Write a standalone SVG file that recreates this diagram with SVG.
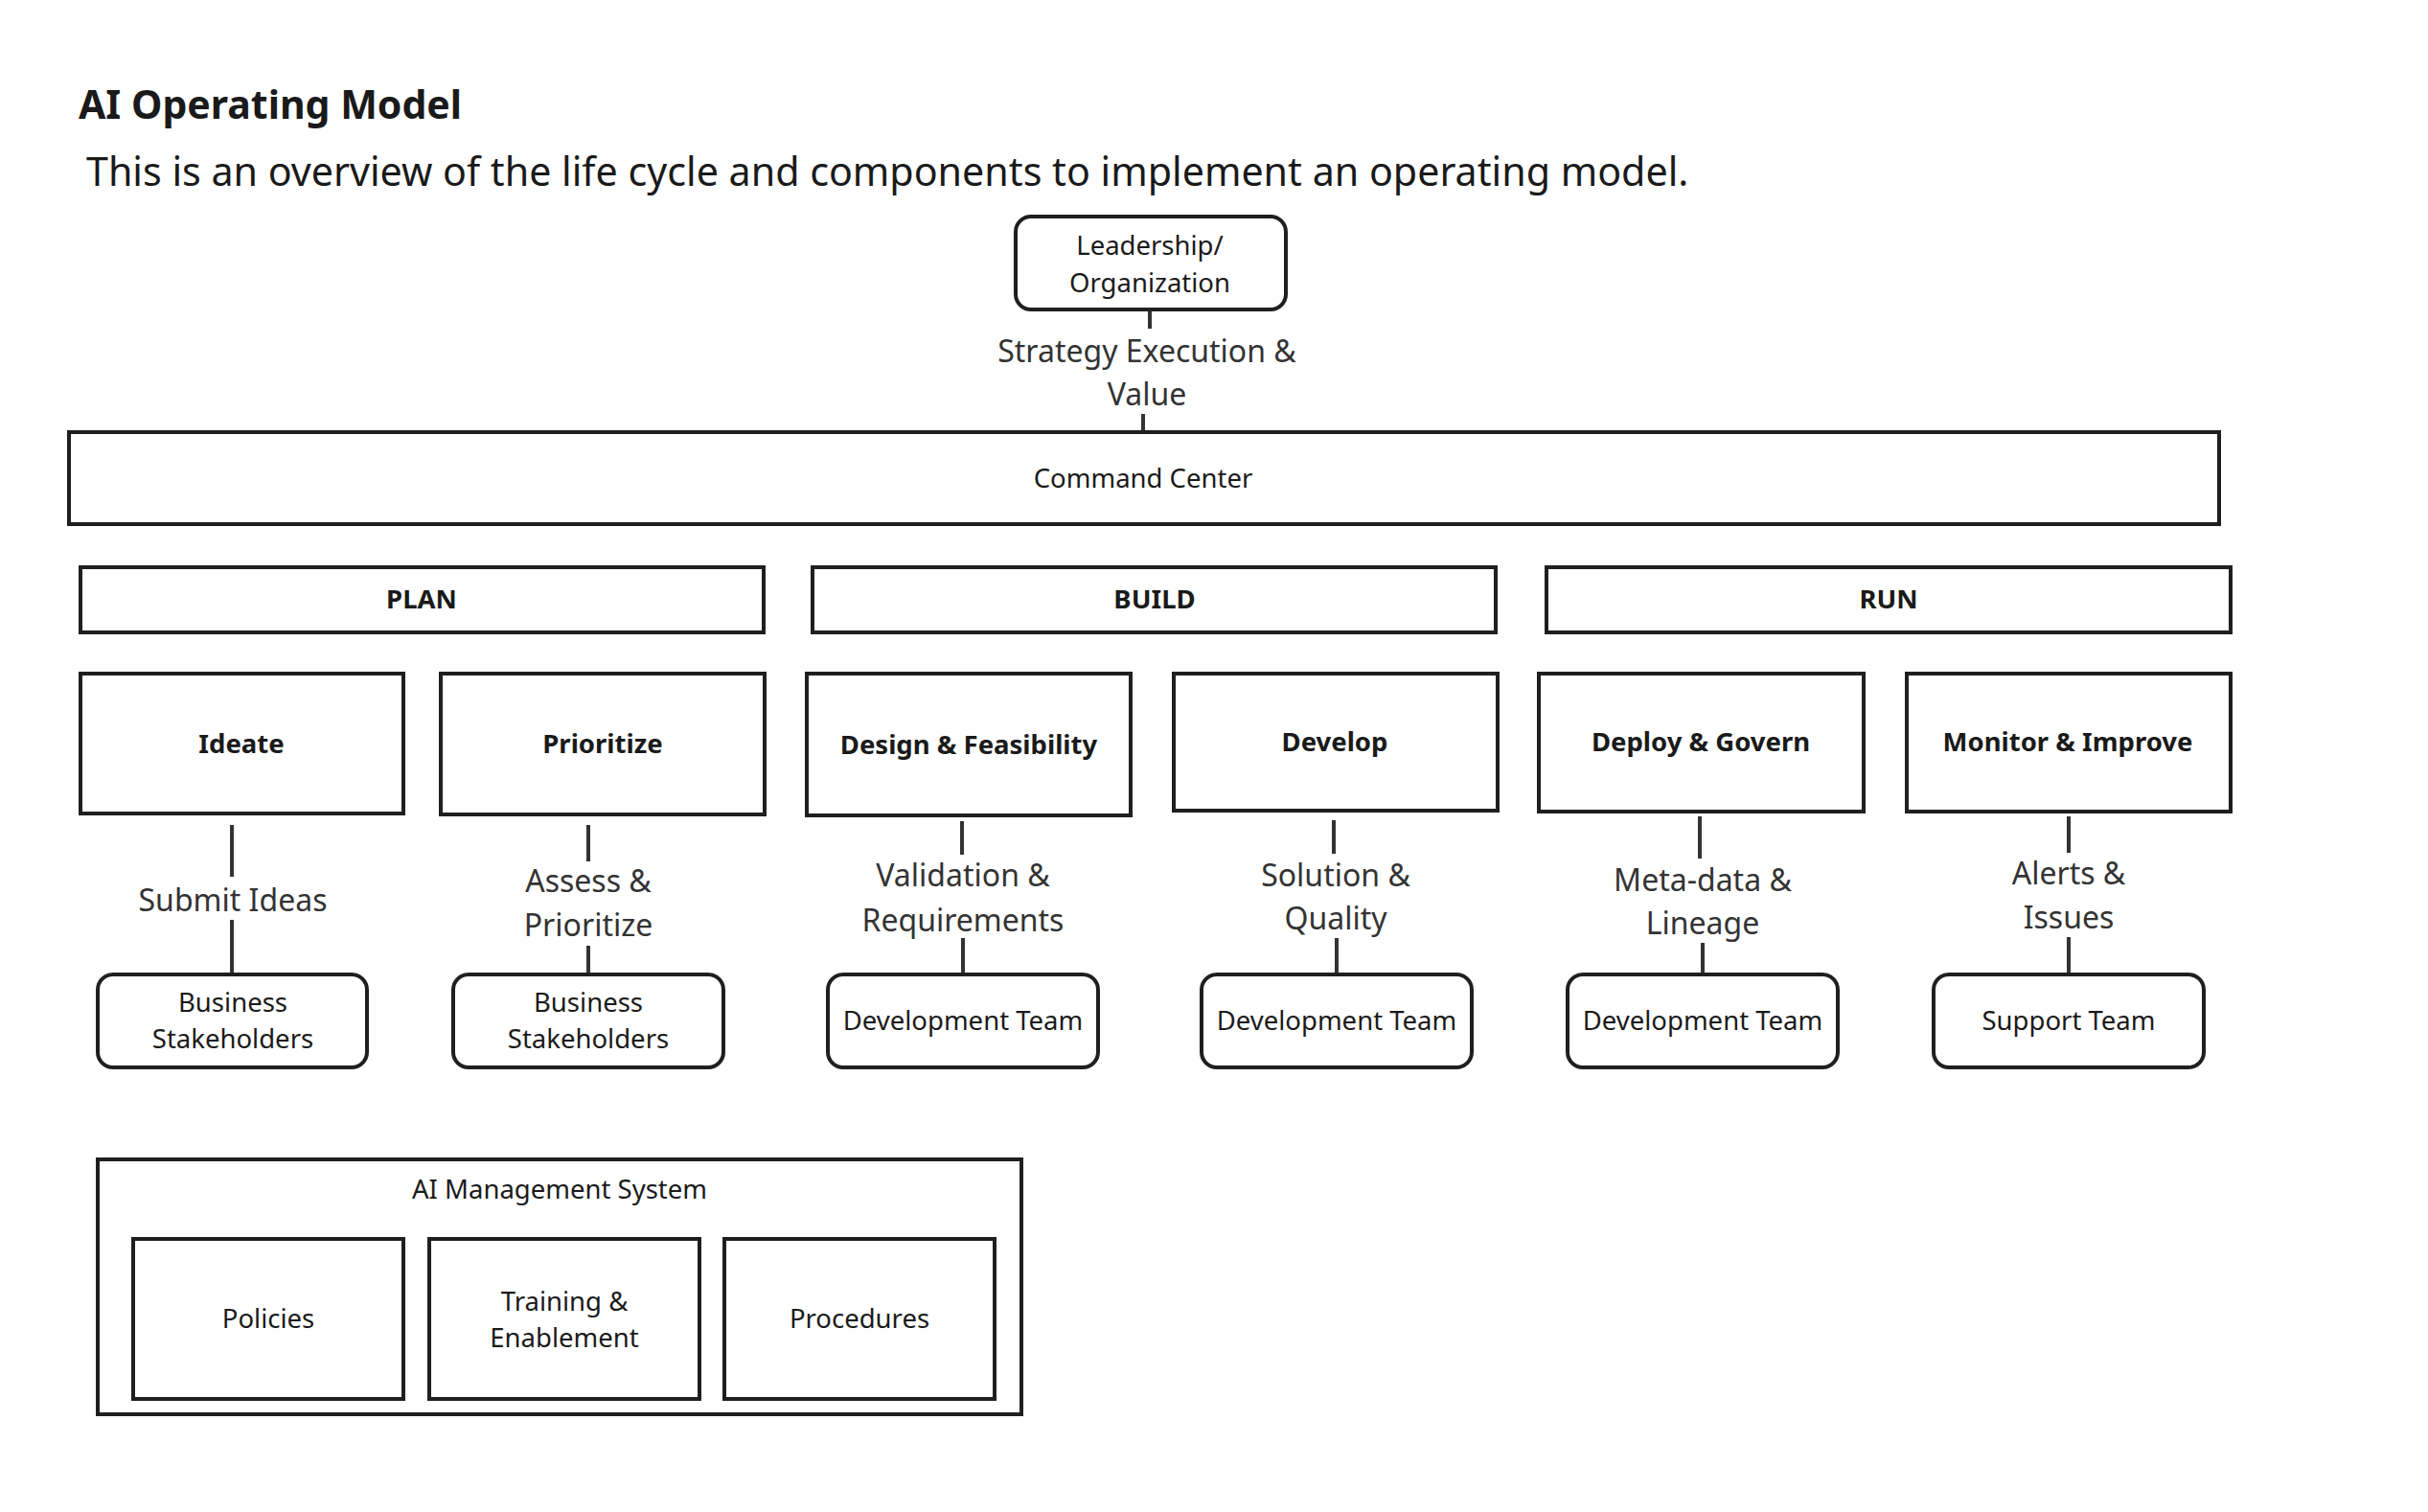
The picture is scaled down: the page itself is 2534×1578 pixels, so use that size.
<svg xmlns="http://www.w3.org/2000/svg" width="2534" height="1578" viewBox="0 0 2534 1578">
<style>
text{font-family:"Noto Sans","Open Sans","Liberation Sans",sans-serif;fill:#1a1a1a}
.box{fill:#fff;stroke:#1f1f1f;stroke-width:4}
.t{font-size:27.5px;text-anchor:middle}
.b{font-size:27.5px;font-weight:bold;text-anchor:middle}
.lbl{font-size:32px;text-anchor:middle;fill:#333}
.ln{stroke:#333;stroke-width:4;fill:none}
</style>
<rect width="2534" height="1578" fill="#fff"/>
<text x="82" y="124" style="font-size:41px;font-weight:bold">AI Operating Model</text>
<text x="90" y="194" style="font-size:41.2px">This is an overview of the life cycle and components to implement an operating model.</text>

<g id="connectors">
<path class="ln" d="M1200 323V343M1193 432V451"/>
<text class="lbl" x="1197" y="378">Strategy Execution &amp;</text>
<text class="lbl" x="1197" y="423">Value</text>
<path class="ln" d="M242 861V915M242 960V1016"/>
<text class="lbl" x="243" y="951">Submit Ideas</text>
<path class="ln" d="M614 861V899M614 987V1016"/>
<text class="lbl" x="614" y="931">Assess &amp;</text>
<text class="lbl" x="614" y="977">Prioritize</text>
<path class="ln" d="M1004 857V892M1005 979V1016"/>
<text class="lbl" x="1005" y="925">Validation &amp;</text>
<text class="lbl" x="1005" y="972">Requirements</text>
<path class="ln" d="M1392 856V891M1395 979V1016"/>
<text class="lbl" x="1394" y="925">Solution &amp;</text>
<text class="lbl" x="1394" y="970">Quality</text>
<path class="ln" d="M1774 852V896M1777 984V1016"/>
<text class="lbl" x="1777" y="930">Meta-data &amp;</text>
<text class="lbl" x="1777" y="975">Lineage</text>
<path class="ln" d="M2159 852V890M2159 978V1016"/>
<text class="lbl" x="2159" y="923">Alerts &amp;</text>
<text class="lbl" x="2159" y="969">Issues</text>
</g>

<g id="leadership"><rect class="box" x="1060" y="226" width="282" height="97" rx="16"/><text class="t" x="1200" y="266">Leadership/</text><text class="t" x="1200" y="305">Organization</text></g>
<g id="command-center"><rect class="box" x="72" y="451" width="2244" height="96"/><text class="t" x="1193" y="509">Command Center</text></g>

<g id="plan"><rect class="box" x="84" y="592" width="713" height="68"/><text class="b" x="440" y="635">PLAN</text></g>
<g id="build"><rect class="box" x="848" y="592" width="713" height="68"/><text class="b" x="1205" y="635">BUILD</text></g>
<g id="run"><rect class="box" x="1614" y="592" width="714" height="68"/><text class="b" x="1971" y="635">RUN</text></g>

<g id="ideate"><rect class="box" x="84" y="703" width="337" height="146"/><text class="b" x="252" y="786">Ideate</text></g>
<g id="prioritize"><rect class="box" x="460" y="703" width="338" height="147"/><text class="b" x="629" y="786">Prioritize</text></g>
<g id="design"><rect class="box" x="842" y="703" width="338" height="148"/><text class="b" x="1011" y="787">Design &amp; Feasibility</text></g>
<g id="develop"><rect class="box" x="1225" y="703" width="338" height="143"/><text class="b" x="1393" y="784">Develop</text></g>
<g id="deploy"><rect class="box" x="1606" y="703" width="339" height="144"/><text class="b" x="1775" y="784">Deploy &amp; Govern</text></g>
<g id="monitor"><rect class="box" x="1990" y="703" width="338" height="144"/><text class="b" x="2158" y="784">Monitor &amp; Improve</text></g>

<g id="business-1"><rect class="box" x="102" y="1017" width="281" height="97" rx="16"/><text class="t" x="243" y="1056">Business</text><text class="t" x="243" y="1094">Stakeholders</text></g>
<g id="business-2"><rect class="box" x="473" y="1017" width="282" height="97" rx="16"/><text class="t" x="614" y="1056">Business</text><text class="t" x="614" y="1094">Stakeholders</text></g>
<g id="devteam-1"><rect class="box" x="864" y="1017" width="282" height="97" rx="16"/><text class="t" x="1005" y="1075">Development Team</text></g>
<g id="devteam-2"><rect class="box" x="1254" y="1017" width="282" height="97" rx="16"/><text class="t" x="1395" y="1075">Development Team</text></g>
<g id="devteam-3"><rect class="box" x="1636" y="1017" width="282" height="97" rx="16"/><text class="t" x="1777" y="1075">Development Team</text></g>
<g id="support"><rect class="box" x="2018" y="1017" width="282" height="97" rx="16"/><text class="t" x="2159" y="1075">Support Team</text></g>

<g id="ai-management-system"><rect class="box" x="102" y="1210" width="964" height="266"/><text class="t" x="584" y="1251">AI Management System</text></g>
<g id="policies"><rect class="box" x="139" y="1293" width="282" height="167"/><text class="t" x="280" y="1386">Policies</text></g>
<g id="training"><rect class="box" x="448" y="1293" width="282" height="167"/><text class="t" x="589" y="1368">Training &amp;</text><text class="t" x="589" y="1406">Enablement</text></g>
<g id="procedures"><rect class="box" x="756" y="1293" width="282" height="167"/><text class="t" x="897" y="1386">Procedures</text></g>
</svg>
